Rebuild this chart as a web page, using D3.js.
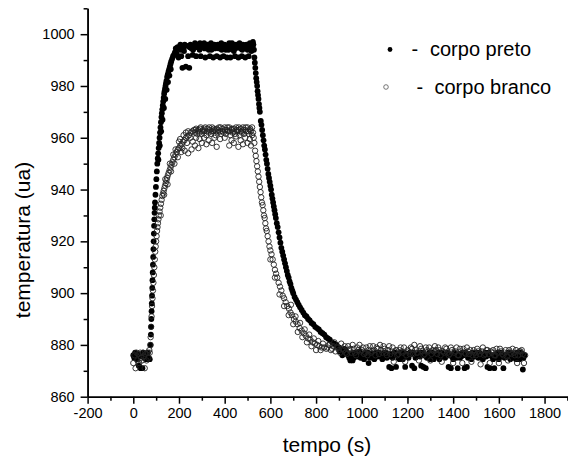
<!DOCTYPE html>
<html>
<head>
<meta charset="utf-8">
<script src="https://cdn.jsdelivr.net/npm/d3@7"></script>
<style>
body { margin: 0; background: #fff; }
svg { display: block; font-family: "Liberation Sans", Arial, sans-serif; }
</style>
</head>
<body>
<svg id="chart" width="568" height="461"></svg>
<script>
// tick labels
const xTicks = [-200, 0, 200, 400, 600, 800, 1000, 1200, 1400, 1600, 1800];
const yTicks = [860, 880, 900, 920, 940, 960, 980, 1000];
const seriesNames = ["corpo preto", "corpo branco"];

// [tempo (s), temperatura (ua)]
const preto = [
  [0,876],[4,875],[8,877],[12,876],[16,874.5],[20,876.5],[24,872],[28,876],[32,871],[36,875.5],[40,871],[44,877],[48,875],[52,876.5],[56,874.5],[60,876],[64,877],[68,875],[72,874.5],
  [76,880],[77,884],[78,887],[79,890],[80,893],[81,896],[82,899],[83,902],[84,905],[85,908],[86,911],[87,914],[88,917],[89,920],[90,923],[91,926],[92,928.5],[93,931],[94,933],[95,935],[97,938],[99,941],[101,944],[103,947],[105,950],[107,952],[109,954],[111,956],[113,958],[115,960],[117,962],[119,964],[121,966],[123,968],[125,969.5],[127,971],[129,972.5],[131,974],[133,975.5],[135,977],[137,978],[139,979],[141,980],[143,981],[145,982],[148,983.5],[151,984.5],[154,985.5],[157,986.5],[160,987.5],[163,988.5],[166,989.5],[170,990.5],[174,991.5],[178,992],
  [110,951.5],[116,957],[122,962.5],[128,967],[134,971.5],[140,975],[146,978.5],[152,981.5],[158,984],[164,986.5],
  [182,993],[186,994.5],[190,992.5],[194,995],[198,991],[202,994.5],[206,996],[210,991.5],[215,987],[220,995],[225,996],[230,987.5],[235,995.5],[240,991.5],[245,987],[250,996],[255,994.5],[260,992],[265,995.5],[270,996.5],[275,991.5],[280,995],[285,996],[290,994],[295,991.5],[300,996],[305,995],[310,996.5],[315,991],[320,995.5],[325,996],[330,994],[335,991.5],[340,996.5],[345,995],[350,991],[355,996],[360,995.5],[365,991.5],[370,996],[375,994.5],[380,991],[385,996.5],[390,995],[395,991.5],[400,996],[405,994],[410,991],[415,995.5],[420,996.5],[425,991],[430,995],[435,996],[440,993.5],[445,991.5],[450,996],[455,995],[460,991],[465,996.5],[470,994.5],[475,991.5],[480,996],[485,995.5],[490,991],[495,996],[500,994],[505,991.5],[510,996.5],[515,995],[520,996],[524,997],
  [207,994],[222,993.5],[247,995],[262,994],[277,995.5],[292,996.5],[312,994.5],[327,995],[342,994],[357,994.5],[372,995.5],[387,994],[402,995],[417,994],[432,996.5],[447,994.5],[462,995.5],[477,994],[492,995],[507,995.5],[517,993.5],
  [526,996],[528,994],[530,991],[532,989],[534,987],[536,985],[538,983],[540,981.5],[542,980],[544,978],[546,976.5],[548,975],[550,973],[552,971.5],[554,970],[558,966.5],[561,965],[564,963],[567,961],[570,959],[573,957],[576,955.5],[579,953.5],[582,951.5],[585,950],[588,948],[591,946],[594,944.5],[597,943],[600,941.5],[603,940],[606,938],[609,936.5],[612,935],[615,933.5],[618,932],[621,930.5],[624,929],[628,927],[632,925.5],[636,923.5],[640,921.5],[644,919.5],[648,917.5],[652,916],[656,914.5],[660,913],[664,911.5],[668,910],[672,908.5],[676,907],[680,906],[684,904.5],[688,903.5],[692,902],[696,901],[700,900],[706,898.5],[712,897.5],[718,896.5],[724,895.5],[730,894.5],[737,893.5],[744,892.5],[751,891.5],[758,891],[765,890],[772,889.5],[780,888.5],[788,888],[796,887],[804,886.5],[812,886],[820,885],[828,884.5],[836,884],[844,883],[852,882.5],[860,882],[870,881],[880,880.5],[890,880],[900,879],
  [910,878],[920,877.5],[930,878],[940,876],[950,874],[960,874],[970,877],[980,875.5],[990,877.5],[1000,876],[1010,874.5],[1020,877],[1030,873],[1040,876.5],[1050,875],[1060,877],[1070,875.5],[1080,876.5],[1090,874.5],[1100,877],[1110,875],[1120,871.5],[1130,871],[1140,876.5],[1150,871.5],[1160,875],[1170,877],[1180,874.5],[1190,871.5],[1200,876.5],[1210,877],[1220,872],[1230,871],[1240,875.5],[1250,877],[1260,872],[1270,871.5],[1280,871],[1290,876],[1300,874.5],[1310,877],[1320,875.5],[1330,876.5],[1340,874.5],[1350,877],[1360,875.5],[1370,876.5],[1380,871.5],[1390,871],[1400,874.5],[1410,876.5],[1420,871],[1430,875],[1440,877],[1450,871],[1460,871.5],[1470,876.5],[1480,874.5],[1490,876],[1500,877],[1510,875],[1520,876.5],[1530,874.5],[1540,877],[1550,871.5],[1560,871],[1570,875.5],[1580,871],[1590,876.5],[1600,874.5],[1610,877],[1620,871],[1630,875.5],[1640,877],[1650,874.5],[1660,876.5],[1670,875],[1680,877],[1690,874.5],[1700,876.5],[1705,870.5],[1712,876],
  [905,877.5],[915,876],[925,878.5],[935,877],[945,875],[955,876.5],[965,875],[975,876],[985,877],[995,875],[1005,876.5],[1015,875.5],[1025,877],[1035,875],[1045,876.5],[1055,874.5],[1065,876],[1075,877],[1085,875.5],[1095,876],[1105,877],[1115,875.5],[1125,876.5],[1135,875],[1145,877],[1155,876],[1165,874.5],[1175,876],[1185,877],[1195,875.5],[1205,875],[1215,876.5],[1225,877],[1235,875],[1245,876],[1255,875.5],[1265,877],[1275,876],[1285,875],[1295,877],[1305,876],[1315,874.5],[1325,876],[1335,877],[1345,875.5],[1355,876],[1365,875],[1375,877],[1385,876],[1395,875.5],[1405,877],[1415,875],[1425,876.5],[1435,875.5],[1445,876],[1455,877],[1465,875],[1475,876],[1485,877],[1495,875.5],[1505,876.5],[1515,877],[1525,875],[1535,876],[1545,875.5],[1555,877],[1565,876],[1575,874.5],[1585,876],[1595,877],[1605,875.5],[1615,876.5],[1625,875],[1635,876],[1645,877],[1655,875.5],[1665,876],[1675,874.5],[1685,876.5],[1695,877],[1708,875]
];

const branco = [
  [0,873],[5,876],[10,871],[14,877],[18,874],[22,876.5],[26,873],[30,877],[34,875],[38,874],[42,877],[46,875.5],[50,871],[54,876.5],[58,874],[62,877],[66,875],[70,878],
  [72,877],[74,880],[76,883],[78,887],[80,891],[82,895],[84,898],[86,901],[88,904],[90,907],[92,910],[94,913],[96,916],[98,918],[100,920],[102,922],[104,924],[106,925.5],[108,927],[110,928.5],[112,930],[115,931.5],[118,933],[121,934.5],[124,936],[127,937.5],[130,938.5],[133,939.5],[136,940.5],[139,941.5],[142,942.5],[145,943.5],[148,944.5],[151,945.5],[155,946.5],[159,947.5],[163,948.5],[167,949.5],[171,950.5],[175,951.5],[180,952.5],[185,953.5],[190,954.5],[195,955.5],[200,956],[206,957],[212,957.5],[218,958.5],[224,959],[230,960],[237,960.5],[244,961],[251,962],[258,962.5],[265,963],
  [120,930],[135,938],[150,942],[165,947],[180,950],[195,952.5],[210,954.5],[225,955],[240,954],[255,955.5],[270,957],[285,956],[300,958],[320,957.5],[345,958],[365,956.5],[420,957],[440,958],[460,956.5],[480,957.5],[500,958],[515,957],
  [140,944],[160,950],[175,953.5],[200,958.5],[220,961],[240,962.5],
  [185,955.5],[205,959.5],[215,956],[230,962],[235,958],[250,960],[260,958.5],[275,960],[290,959.5],[310,960],[330,959],[355,960],[380,959.5],[400,960],[430,959],[450,960.5],[470,959],[490,960],[510,959.5],
  [270,962],[275,963.5],[280,961.5],[285,963],[290,962],[295,964],[300,961.5],[305,963],[310,962.5],[315,964],[320,961],[325,963.5],[330,962],[335,963],[340,961.5],[345,964],[350,962.5],[355,963],[360,961],[365,963.5],[370,962],[375,964],[380,962.5],[385,961.5],[390,963.5],[395,962],[400,964],[405,961.5],[410,963],[415,962.5],[420,964],[425,961],[430,963],[435,962],[440,963.5],[445,961.5],[450,964],[455,962.5],[460,963],[465,961],[470,963.5],[475,962],[480,964],[485,961.5],[490,963],[495,962.5],[500,964],[505,961.5],[510,963],[515,962.5],[520,964],
  [272,963],[282,962.5],[292,963.5],[302,962.5],[312,963.5],[322,962.5],[332,964],[342,962.5],[352,963.5],[362,962.5],[372,963],[382,964],[392,962.5],[402,963],[412,964],[422,962.5],[432,963.5],[442,962.5],[452,963],[462,964],[472,962.5],[482,963],[492,964],[502,962.5],[512,963.5],[520,961],
  [524,962],[527,960],[530,958],[533,955],[536,953],[539,951],[542,949],[545,947],[548,945],[551,943],[554,941],[557,939],[560,937],[563,935],[566,934],[569,932],[572,930],[575,929],[578,927],[581,925],[584,924],[588,922],[592,920],[596,918],[600,916.5],[605,915],[610,913],[615,911],[620,909],[625,907.5],[630,906],[636,904],[642,902.5],[648,901],[654,899],[660,898],[667,896.5],[674,895],[681,894],[688,892.5],[695,891.5],[703,890],[711,889],[719,888],[728,886.5],[737,885.5],[746,884.5],[755,883.5],[765,882.5],[775,882],[785,881],[795,880.5],[805,880],[815,879.5],[825,879],[835,879],[845,878.5],
  [600,913],[620,906],[640,899.5],[660,895],[680,891.5],[700,888],[720,885],[740,883],[760,881],[780,879.5],[800,878],[820,878],
  [690,895.5],[710,891],[730,888.5],[750,886],[770,884],[790,882.5],[810,881.5],[830,880.5],
  [850,879],[860,880],[870,878.5],[880,881],[890,879],[900,878],[910,880.5],[920,878],[930,877],[940,879.5],[950,878.5],[960,880],[970,877],[980,879],[990,880],[1000,878],[1010,876.5],[1020,879],[1030,878],[1040,877],[1050,879.5],[1060,876],[1070,878.5],[1080,880],[1090,877],[1100,878.5],[1110,876],[1120,879.5],[1130,877.5],[1140,873.5],[1150,878],[1160,876.5],[1170,879],[1180,877],[1190,873.5],[1200,878],[1210,876.5],[1220,878.5],[1230,880],[1240,877],[1250,874],[1260,878.5],[1270,876],[1280,879],[1290,877.5],[1300,874],[1310,878],[1320,879.5],[1330,876.5],[1340,878],[1350,873.5],[1360,877],[1370,878.5],[1380,876],[1390,879],[1400,873],[1410,877.5],[1420,876],[1430,878.5],[1440,873],[1450,877],[1460,879],[1470,876.5],[1480,873.5],[1490,878],[1500,876],[1510,877.5],[1520,872.5],[1530,879],[1540,876.5],[1550,878],[1560,873],[1570,877],[1580,876],[1590,878.5],[1600,873],[1610,877.5],[1620,876],[1630,878],[1640,874],[1650,877],[1660,878.5],[1670,876],[1680,873],[1690,877.5],[1700,878],[1710,873],[1715,876],
  [855,880],[865,878],[875,879.5],[885,877.5],[895,879],[905,877],[915,878.5],[925,879.5],[935,876.5],[945,878],[955,877],[965,878.5],[975,876],[985,878],[995,877.5],[1005,879],[1015,877],[1025,876],[1035,879.5],[1045,877.5],[1055,878],[1065,879],[1075,876.5],[1085,878],[1095,879.5],[1105,877],[1115,878],[1125,876.5],[1135,879],[1145,877.5],[1155,876],[1165,878],[1175,877.5],[1185,879],[1195,876],[1205,877.5],[1215,879],[1225,876.5],[1235,878],[1245,877],[1255,879.5],[1265,877.5],[1275,876.5],[1285,878],[1295,879],[1305,876.5],[1315,877.5],[1325,878],[1335,879],[1345,876],[1355,877.5],[1365,879],[1375,877],[1385,876.5],[1395,878],[1405,877],[1415,879],[1425,876],[1435,877.5],[1445,878.5],[1455,876.5],[1465,877.5],[1475,878],[1485,876],[1495,877],[1505,878.5],[1515,876.5],[1525,877.5],[1535,876],[1545,878],[1555,876.5],[1565,877.5],[1575,878],[1585,876],[1595,877],[1605,878.5],[1615,876.5],[1625,877],[1635,875.5],[1645,878],[1655,876.5],[1665,877],[1675,878],[1685,876],[1695,877.5],[1705,876.5]
];

const svg = d3.select("#chart");

const x = d3.scaleLinear().domain([-200, 1900]).range([87.6, 567.4]);
const y = d3.scaleLinear().domain([860, 1010]).range([396.7, 8.3]);

const plain = d => String(d);

// axes: major ticks with labels, minor ticks without
svg.append("g")
  .attr("transform", `translate(0,${y(860)})`)
  .call(d3.axisBottom(x).tickValues(xTicks).tickFormat(plain).tickSize(7).tickPadding(4.5).tickSizeOuter(0));
svg.append("g")
  .attr("transform", `translate(0,${y(860)})`)
  .call(d3.axisBottom(x).tickValues(d3.range(-100, 1901, 200)).tickSize(4).tickFormat("").tickSizeOuter(0));

svg.append("g")
  .attr("transform", `translate(${x(-200)},0)`)
  .call(d3.axisLeft(y).tickValues(yTicks).tickFormat(plain).tickSize(7).tickPadding(6).tickSizeOuter(0));
svg.append("g")
  .attr("transform", `translate(${x(-200)},0)`)
  .call(d3.axisLeft(y).tickValues(d3.range(870, 1011, 20)).tickSize(4).tickFormat("").tickSizeOuter(0));

svg.selectAll(".domain, .tick line").attr("stroke", "#000").attr("stroke-width", 1.5);
svg.selectAll(".tick text").attr("fill", "#000").style("font-size", "14.5px");

// axis titles
svg.append("text")
  .attr("x", 327).attr("y", 452)
  .attr("text-anchor", "middle")
  .style("font-size", "21px")
  .text("tempo (s)");

svg.append("text")
  .attr("transform", "translate(30,240) rotate(-90)")
  .attr("text-anchor", "middle")
  .style("font-size", "21px")
  .text("temperatura (ua)");

// data points
svg.append("g").selectAll("circle")
  .data(preto)
  .join("circle")
  .attr("cx", d => x(d[0]))
  .attr("cy", d => y(d[1]))
  .attr("r", 2.9)
  .attr("fill", "#000");

svg.append("g").selectAll("circle")
  .data(branco)
  .join("circle")
  .attr("cx", d => x(d[0]))
  .attr("cy", d => y(d[1]))
  .attr("r", 2.7)
  .attr("fill", "none")
  .attr("stroke", "#222")
  .attr("stroke-width", 0.9);

// legend
const legend = svg.append("g");
legend.append("circle").attr("cx", 390).attr("cy", 49.5).attr("r", 2.4).attr("fill", "#000");
legend.append("text").attr("x", 411.5).attr("y", 56).style("font-size", "20px").text("-");
legend.append("text").attr("x", 430).attr("y", 56).style("font-size", "20px").text(seriesNames[0]);

legend.append("circle").attr("cx", 386).attr("cy", 87).attr("r", 2.3)
  .attr("fill", "none").attr("stroke", "#555").attr("stroke-width", 0.8);
legend.append("text").attr("x", 416.5).attr("y", 94).style("font-size", "20px").text("-");
legend.append("text").attr("x", 434.5).attr("y", 94).style("font-size", "20px").text(seriesNames[1]);
</script>
</body>
</html>
